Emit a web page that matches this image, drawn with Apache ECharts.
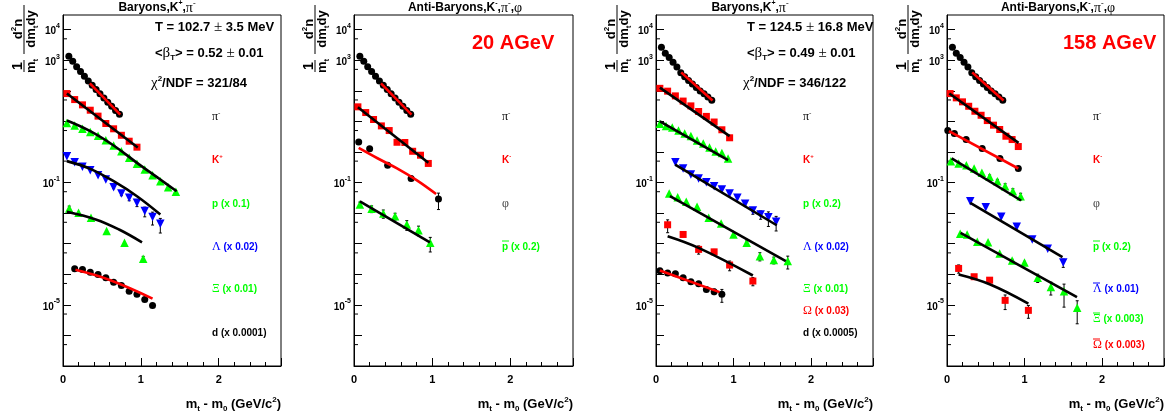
<!DOCTYPE html>
<html><head><meta charset="utf-8">
<script src="https://cdn.jsdelivr.net/npm/echarts@6/dist/echarts.min.js"></script>
<style>html,body{margin:0;padding:0;background:#fff}#c{width:1170px;height:420px}</style>
</head><body><div id="c"></div>
<script>
// ================= DATA =================
const xTickLabels = ['0', '1', '2'];
const yDecadeTicks = [1e-7, 1e-6, 1e-5, 1e-4, 1e-3, 1e-2, 1e-1, 1, 10, 100, 1e3, 1e4];
const yHalfTicks = [5e-7, 5e-6, 5e-5, 5e-4, 5e-3, 5e-2, 0.5, 5, 50, 500, 5e3];
const yLabelValues = [1e4, 1e3, 1e-1, 1e-5];

// ---- 20 AGeV ----
const pi20 = [[0.075,1343],[0.125,922],[0.175,615],[0.225,430],[0.275,300],[0.325,210],[0.375,150],[0.425,110],[0.475,80],[0.525,58],[0.575,42],[0.625,31],[0.675,22.5],[0.725,17]];
const pi20Fit = [[0.345,175],[0.735,16.5]];

const kp20 = [[0.05,81],[0.15,51.5],[0.25,34.6],[0.35,23.1],[0.45,14.8],[0.55,8.5],[0.65,5.7],[0.75,3.5],[0.85,2.24],[0.95,1.43]];
const kp20Fit = [[0.05,81],[0.96,1.4]];

const p20 = [[0.05,8.9],[0.15,7.3],[0.25,5.7],[0.35,4.5],[0.45,3.36],[0.55,2.41],[0.65,1.62],[0.75,1.05],[0.85,0.64],[0.95,0.41],[1.05,0.266],[1.15,0.173],[1.25,0.110],[1.35,0.070],[1.45,0.0495]];
const p20Fit = [[0.05,10.6],[0.35,4.75],[0.65,1.62],[0.95,0.44],[1.25,0.125],[1.46,0.052]];

const lam20 = [[0.05,0.724],[0.15,0.46],[0.25,0.326],[0.35,0.253],[0.45,0.173],[0.55,0.125],[0.65,0.070],[0.75,0.0436],[0.85,0.0316],[0.95,0.0217],[1.05,0.0116],[1.15,0.0074],[1.25,0.00446]];
const lam20Err = [0,0,0,0,0,0,0.1,0.15,0.2,0.25,0.35,0.45,0.5];
const lam20Fit = [[0.05,0.5],[0.35,0.28],[0.65,0.11],[0.95,0.0356],[1.25,0.009]];

const xi20 = [[0.08,0.0141],[0.2,0.0102],[0.36,0.0070],[0.56,0.0026],[0.79,0.00107],[1.03,0.00032]];
const xi20Err = [0.2,0,0,0,0,0.2];
const xi20Fit = [[0.05,0.011],[0.42,0.0062],[0.72,0.0029],[1.015,0.0011]];

const d20 = [[0.15,1.5e-4],[0.25,1.44e-4],[0.35,1.17e-4],[0.45,9.8e-5],[0.55,7.7e-5],[0.65,5.5e-5],[0.75,4.3e-5],[0.85,2.8e-5],[0.95,2.2e-5],[1.05,1.5e-5],[1.15,9.6e-6]];
const d20Fit = [[0.16,1.4e-4],[0.6,6.5e-5],[1.15,1.6e-5]];

const km20 = [[0.05,29.8],[0.15,19.4],[0.25,11.5],[0.35,7.1],[0.45,5.0],[0.55,2.07],[0.65,2.03],[0.75,1.05],[0.85,0.78],[0.95,0.42]];
const km20Fit = [[0.05,29],[0.95,0.44]];

const phi20 = [[0.06,2.13],[0.2,1.26],[0.43,0.367],[0.73,0.135],[1.08,0.029]];
const phi20Err = [0.1,0,0.1,0.15,0.55];
const phi20Fit = [[0.06,1.35],[0.3,0.62],[0.55,0.29],[0.8,0.12],[1.05,0.042]];

const pbar20 = [[0.075,0.0191],[0.225,0.0138],[0.375,0.0097],[0.525,0.0079],[0.675,0.0042],[0.825,0.00277],[0.975,0.00107]];
const pbar20Err = [0.2,0.25,0.3,0.25,0.35,0.35,0.5];
const pbar20Fit = [[0.075,0.024],[0.97,0.0011]];

// ---- 158 AGeV ----
const pi158 = [[0.07,2640],[0.12,1700],[0.17,1220],[0.22,850],[0.27,595],[0.32,390],[0.37,288],[0.42,218],[0.47,165],[0.52,127],[0.57,99],[0.62,80],[0.67,62],[0.72,49]];
const pi158Fit = [[0.325,400],[0.73,48]];

const kp158 = [[0.05,120],[0.15,97],[0.25,68],[0.35,46],[0.45,32],[0.55,21],[0.65,14.5],[0.75,9.5],[0.85,5.3],[0.95,2.9]];
const kp158Fit = [[0.05,126],[0.95,3.3]];

const p158 = [[0.05,8.3],[0.13,7.0],[0.21,6.3],[0.29,5.0],[0.37,4.0],[0.45,3.3],[0.53,2.36],[0.61,1.88],[0.69,1.39],[0.77,1.03],[0.85,0.92],[0.93,0.61]];
const p158Fit = [[0.05,10],[0.93,0.54]];

const lam158 = [[0.25,0.46],[0.35,0.287],[0.45,0.182],[0.55,0.135],[0.65,0.102],[0.75,0.0757],[0.85,0.059],[0.95,0.0436],[1.05,0.0316],[1.15,0.0201],[1.25,0.0122],[1.35,0.0090],[1.45,0.0073],[1.55,0.0052]];
const lam158Err = [0,0,0,0,0,0,0,0,0,0.15,0.25,0.3,0.5,0.5];
const lam158Fit = [[0.247,0.387],[1.558,0.004]];

const xi158 = [[0.17,0.0436],[0.28,0.033],[0.39,0.0234],[0.53,0.0161],[0.68,0.0070],[0.84,0.00457],[1.0,0.002],[1.17,0.00107],[1.34,0.00039],[1.52,0.00029],[1.7,0.00027]];
const xi158Err = [0,0,0,0,0,0,0,0.15,0.3,0.25,0.45];
const xi158Fit = [[0.18,0.036],[1.675,0.00027]];

const om158 = [[0.15,0.00415],[0.35,0.002],[0.55,6.5e-4],[0.75,5.4e-4],[0.95,2.0e-4],[1.25,6.0e-5]];
const om158Err = [0.45,0.1,0.3,0.2,0.35,0.3];
const om158Fit = [[0.15,0.00176],[0.55,7.3e-4],[1.25,9.1e-5]];

const d158 = [[0.05,1.31e-4],[0.15,1.09e-4],[0.25,1.04e-4],[0.35,7.7e-5],[0.45,5.7e-5],[0.55,4.9e-5],[0.65,3.2e-5],[0.75,2.7e-5],[0.85,2.2e-5]];
const d158Err = [0.1,0.1,0.1,0.1,0.1,0.15,0.15,0.2,0.45];
const d158Fit = [[0.05,1.33e-4],[0.82,2.6e-5]];

const km158 = [[0.04,81],[0.12,58.6],[0.2,43.4],[0.28,31.1],[0.36,21.4],[0.44,15.8],[0.52,10.6],[0.6,7.5],[0.68,5.4],[0.76,3.26],[0.84,2.54],[0.92,1.5]];
const km158Fit = [[0.03,81],[0.923,1.98]];

const phi158 = [[0.01,5.0],[0.095,4.0],[0.247,2.54],[0.454,1.29],[0.683,0.61],[0.92,0.287]];
const phi158Fit = [[0.025,4.75],[0.92,0.287]];

const pbar158 = [[0.05,0.497],[0.15,0.418],[0.25,0.367],[0.35,0.287],[0.45,0.207],[0.55,0.153],[0.65,0.110],[0.75,0.0758],[0.85,0.052],[0.95,0.0356]];
const pbar158Err = [0,0,0,0,0,0.15,0.15,0.2,0.2,0.25];
const pbar158Fit = [[0.06,0.61],[0.956,0.0258]];

const alam158 = [[0.3,0.0245],[0.5,0.0156],[0.7,0.00757],[0.9,0.00356],[1.1,0.00137],[1.3,6.8e-4],[1.5,2.4e-4]];
const alam158Err = [0,0,0,0,0,0,0.3];
const alam158Fit = [[0.3,0.0217],[1.49,3.6e-4]];

const axi158 = [[0.17,0.0021],[0.26,0.002],[0.39,0.00115],[0.53,0.00112],[0.68,4.8e-4],[0.84,2.8e-4],[1.0,2.4e-4],[1.17,7.7e-5],[1.34,3.8e-5],[1.51,2.8e-5],[1.68,8.0e-6]];
const axi158Err = [0,0,0,0,0,0.1,0.1,0.3,0.45,0.7,0.7];
const axi158Fit = [[0.175,0.00227],[1.677,1.8e-5]];

const aom158 = [[0.15,1.55e-4],[0.35,8.3e-5],[0.55,6.4e-5],[0.75,1.4e-5],[1.05,6.6e-6]];
const aom158Err = [0.3,0,0,0.5,0.45];
const aom158Fit = [[0.15,9.8e-5],[0.55,4.7e-5],[1.05,1.09e-5]];

// ================= STYLE / LAYOUT =================
const SANS = '"Liberation Sans", Arial, Helvetica, sans-serif';
const SERIF = '"Liberation Serif", "Times New Roman", serif';
const BLACK = '#000000', RED = '#ff0000', GREEN = '#00ff00', BLUE = '#0000ff';
const M = {
  circle: {symbol: 'circle', size: 7, rot: 0},
  rect: {symbol: 'rect', size: 7, rot: 0},
  tri: {symbol: 'triangle', size: 8.5, rot: 0},
  itri: {symbol: 'triangle', size: 8.5, rot: 180}
};

const PANELS = [
  {left: 63, width: 218, sets: [
    {pts: pi20, fit: pi20Fit, m: 'circle', c: BLACK, fc: RED},
    {pts: kp20, fit: kp20Fit, m: 'rect', c: RED, fc: BLACK},
    {pts: p20, fit: p20Fit, m: 'tri', c: GREEN, fc: BLACK},
    {pts: lam20, err: lam20Err, fit: lam20Fit, m: 'itri', c: BLUE, fc: BLACK},
    {pts: xi20, err: xi20Err, fit: xi20Fit, m: 'tri', c: GREEN, fc: BLACK},
    {pts: d20, fit: d20Fit, m: 'circle', c: BLACK, fc: RED}
  ]},
  {left: 354, width: 219, sets: [
    {pts: pi20, fit: pi20Fit, m: 'circle', c: BLACK, fc: RED},
    {pts: km20, fit: km20Fit, m: 'rect', c: RED, fc: BLACK},
    {pts: phi20, err: phi20Err, fit: phi20Fit, m: 'circle', c: BLACK, fc: RED},
    {pts: pbar20, err: pbar20Err, fit: pbar20Fit, m: 'tri', c: GREEN, fc: BLACK}
  ]},
  {left: 656, width: 217, sets: [
    {pts: pi158, fit: pi158Fit, m: 'circle', c: BLACK, fc: RED},
    {pts: kp158, fit: kp158Fit, m: 'rect', c: RED, fc: BLACK},
    {pts: p158, fit: p158Fit, m: 'tri', c: GREEN, fc: BLACK},
    {pts: lam158, err: lam158Err, fit: lam158Fit, m: 'itri', c: BLUE, fc: BLACK},
    {pts: xi158, err: xi158Err, fit: xi158Fit, m: 'tri', c: GREEN, fc: BLACK},
    {pts: om158, err: om158Err, fit: om158Fit, m: 'rect', c: RED, fc: BLACK},
    {pts: d158, err: d158Err, fit: d158Fit, m: 'circle', c: BLACK, fc: RED}
  ]},
  {left: 947, width: 217, sets: [
    {pts: pi158, fit: pi158Fit, m: 'circle', c: BLACK, fc: RED},
    {pts: km158, fit: km158Fit, m: 'rect', c: RED, fc: BLACK},
    {pts: phi158, fit: phi158Fit, m: 'circle', c: BLACK, fc: RED},
    {pts: pbar158, err: pbar158Err, fit: pbar158Fit, m: 'tri', c: GREEN, fc: BLACK},
    {pts: alam158, err: alam158Err, fit: alam158Fit, m: 'itri', c: BLUE, fc: BLACK},
    {pts: axi158, err: axi158Err, fit: axi158Fit, m: 'tri', c: GREEN, fc: BLACK},
    {pts: aom158, err: aom158Err, fit: aom158Fit, m: 'rect', c: RED, fc: BLACK}
  ]}
];

const TOP = 15, HEIGHT = 351;

function errRender(params, api) {
  const x = api.value(0);
  const a = api.coord([x, api.value(1)]);
  const b = api.coord([x, api.value(2)]);
  const ls = {stroke: '#000', lineWidth: 1};
  return {type: 'group', children: [
    {type: 'line', shape: {x1: a[0], y1: a[1], x2: b[0], y2: b[1]}, style: ls},
    {type: 'line', shape: {x1: a[0] - 1.5, y1: a[1], x2: a[0] + 1.5, y2: a[1]}, style: ls},
    {type: 'line', shape: {x1: b[0] - 1.5, y1: b[1], x2: b[0] + 1.5, y2: b[1]}, style: ls}
  ]};
}
function halfTickRender(params, api) {
  const p = api.coord([api.value(0), api.value(1)]);
  return {type: 'line', shape: {x1: p[0], y1: p[1], x2: p[0] + 4, y2: p[1]}, style: {stroke: '#000', lineWidth: 1}};
}

const grids = [], xAxes = [], yAxes = [], series = [];
PANELS.forEach((p, i) => {
  grids.push({left: p.left, top: TOP, width: p.width, height: HEIGHT, show: true,
    borderColor: '#000', borderWidth: 1, backgroundColor: '#fff', containLabel: false});
  xAxes.push({gridIndex: i, type: 'value', min: 0, max: 2.8, interval: 1,
    axisLine: {lineStyle: {color: '#000', width: 1}},
    axisTick: {inside: true, length: 8, lineStyle: {color: '#000'}},
    minorTick: {show: true, splitNumber: 5, length: 4, lineStyle: {color: '#000'}},
    splitLine: {show: false}, minorSplitLine: {show: false},
    axisLabel: {margin: 8, showMaxLabel: false, color: '#000', fontFamily: SANS, fontWeight: 'bold', fontSize: 11,
      formatter: v => (xTickLabels[v] !== undefined ? xTickLabels[v] : '')}
  });
  yAxes.push({gridIndex: i, type: 'log', logBase: 10, min: 1e-7, max: 3e4,
    axisLine: {lineStyle: {color: '#000', width: 1}},
    axisTick: {inside: true, length: 8, lineStyle: {color: '#000'}, customValues: yDecadeTicks},
    splitLine: {show: false},
    axisLabel: {margin: 3, color: '#000', customValues: yLabelValues,
      formatter: v => '{b|10}{s|' + Math.round(Math.log10(v)) + '}',
      rich: {
        b: {fontFamily: SANS, fontWeight: 'bold', fontSize: 10, color: '#000', lineHeight: 14, verticalAlign: 'bottom'},
        s: {fontFamily: SANS, fontWeight: 'bold', fontSize: 7, color: '#000', lineHeight: 14, verticalAlign: 'top'}
      }}
  });
  series.push({type: 'custom', xAxisIndex: i, yAxisIndex: i, silent: true, clip: false, z: 1,
    data: yHalfTicks.map(v => [0, v]), encode: {x: 0, y: 1}, renderItem: halfTickRender});
  p.sets.forEach(s => {
    const mk = M[s.m];
    if (s.err) {
      const ed = [];
      s.pts.forEach((pt, j) => { if (s.err[j]) ed.push([pt[0], pt[1] * (1 - s.err[j]), pt[1] * (1 + s.err[j])]); });
      series.push({type: 'custom', xAxisIndex: i, yAxisIndex: i, silent: true, z: 2,
        data: ed, encode: {x: 0, y: [1, 2]}, renderItem: errRender});
    }
    series.push({type: 'scatter', xAxisIndex: i, yAxisIndex: i, z: 3, data: s.pts,
      symbol: mk.symbol, symbolSize: mk.size, symbolRotate: mk.rot,
      itemStyle: {color: s.c, opacity: 1}});
    series.push({type: 'line', xAxisIndex: i, yAxisIndex: i, z: 4, data: s.fit,
      showSymbol: false, smooth: s.fit.length > 2 ? 0.4 : false,
      lineStyle: {color: s.fc, width: 2.6}});
  });
});

// ================= TEXT =================
const RICH = (size, color) => ({
  g: {fontFamily: SERIF, fontSize: size + 2, fontWeight: 'normal', fill: color, color: color},
  sup: {fontFamily: SANS, fontSize: Math.round(size * 0.62), fontWeight: 'bold', fill: color, color: color, verticalAlign: 'top', lineHeight: size + 2},
  gsup: {fontFamily: SERIF, fontSize: Math.round(size * 0.7), fontWeight: 'normal', fill: color, color: color, verticalAlign: 'top', lineHeight: size + 2},
  sub: {fontFamily: SANS, fontSize: Math.round(size * 0.62), fontWeight: 'bold', fill: color, color: color, verticalAlign: 'bottom', lineHeight: Math.round(size * 0.62)}
});
function txt(x, y, text, size, color, align) {
  return {type: 'text', x: x, y: y, silent: true, z: 10, style: {
    text: text, fill: color, fontFamily: SANS, fontWeight: 'bold', fontSize: size,
    align: align || 'left', verticalAlign: 'middle', lineHeight: size + 4, rich: RICH(size, color)}};
}
function bar(x1, x2, y, color) {
  return {type: 'line', silent: true, z: 10, shape: {x1: x1, y1: y, x2: x2, y2: y}, style: {stroke: color, lineWidth: 1}};
}

const graphics = [];
// titles
graphics.push(txt(157, 8, 'Baryons,K{sup|+},{g|π}{gsup|-}', 12, BLACK, 'center'));
graphics.push(txt(465, 8, 'Anti-Baryons,K{sup|-},{g|π}{gsup|-},{g|φ}', 12, BLACK, 'center'));
graphics.push(txt(750, 8, 'Baryons,K{sup|+},{g|π}{gsup|-}', 12, BLACK, 'center'));
graphics.push(txt(1058, 8, 'Anti-Baryons,K{sup|-},{g|π}{gsup|-},{g|φ}', 12, BLACK, 'center'));
// fit results
[[155, 'T = 102.7 {g|±} 3.5 MeV', '<{g|β}{sub|T}> = 0.52 {g|±} 0.01', '{g|χ}{sup|2}/NDF = 321/84'],
 [747, 'T = 124.5 {g|±} 16.8 MeV', '<{g|β}{sub|T}> = 0.49 {g|±} 0.01', '{g|χ}{sup|2}/NDF = 346/122']].forEach(r => {
  graphics.push(txt(r[0], 27, r[1], 13, BLACK));
  graphics.push(txt(r[0], 53, r[2], 13, BLACK));
  graphics.push(txt(r[0] - 4, 83, r[3], 13, BLACK));
});
graphics.push(txt(472, 43, '20 AGeV', 20, RED));
graphics.push(txt(1063, 43, '158 AGeV', 20, RED));
// species labels
const LAB = [
  [212, [[117, '{g|π}{gsup|-}', BLACK], [160, 'K{sup|+}', RED], [204, 'p (x 0.1)', GREEN], [247, '{g|Λ} (x 0.02)', BLUE], [289, '{g|Ξ} (x 0.01)', GREEN], [333, 'd (x 0.0001)', BLACK]]],
  [502, [[117, '{g|π}{gsup|-}', BLACK], [160, 'K{sup|-}', RED], [204, '{g|φ}', '#444'], [247, 'p (x 0.2)', GREEN, 1]]],
  [803, [[117, '{g|π}{gsup|-}', BLACK], [160, 'K{sup|+}', RED], [204, 'p (x 0.2)', GREEN], [247, '{g|Λ} (x 0.02)', BLUE], [289, '{g|Ξ} (x 0.01)', GREEN], [311, '{g|Ω} (x 0.03)', RED], [333, 'd (x 0.0005)', BLACK]]],
  [1093, [[117, '{g|π}{gsup|-}', BLACK], [160, 'K{sup|-}', RED], [204, '{g|φ}', '#444'], [247, 'p (x 0.2)', GREEN, 1], [289, '{g|Λ} (x 0.01)', BLUE, 1], [319, '{g|Ξ} (x 0.003)', GREEN, 1], [345, '{g|Ω} (x 0.003)', RED, 1]]]
];
LAB.forEach(col => col[1].forEach(l => {
  graphics.push(txt(col[0], l[0], l[1], 10, l[2]));
  if (l[3]) graphics.push(bar(col[0], col[0] + 7, l[0] - 6, l[2]));
}));
// x-axis titles
PANELS.forEach(p => {
  graphics.push(txt(p.left + p.width, 404, 'm{sub|t} - m{sub|0} (GeV/c{sup|2})', 13, BLACK, 'right'));
});
// y-axis titles (rotated fraction)
function yTitle(cx, cy) {
  const ch = [
    txt(-27, -6, '1', 14, BLACK, 'center'),
    bar(-33, -21, 0, BLACK),
    txt(-27, 7, 'm{sub|t}', 13, BLACK, 'center'),
    txt(10, -6, 'd{sup|2}n', 13, BLACK, 'center'),
    bar(-15, 34, 0, BLACK),
    txt(10, 7, 'dm{sub|t}dy', 13, BLACK, 'center')
  ];
  return {type: 'group', x: cx, y: cy, rotation: Math.PI / 2, silent: true, children: ch};
}
PANELS.forEach(p => graphics.push(yTitle(p.left - 39, 39)));

const chart = echarts.init(document.getElementById('c'), null, {renderer: 'canvas', width: 1170, height: 420});
chart.setOption({
  animation: false,
  backgroundColor: '#fff',
  grid: grids, xAxis: xAxes, yAxis: yAxes, series: series,
  graphic: graphics
});
</script></body></html>
